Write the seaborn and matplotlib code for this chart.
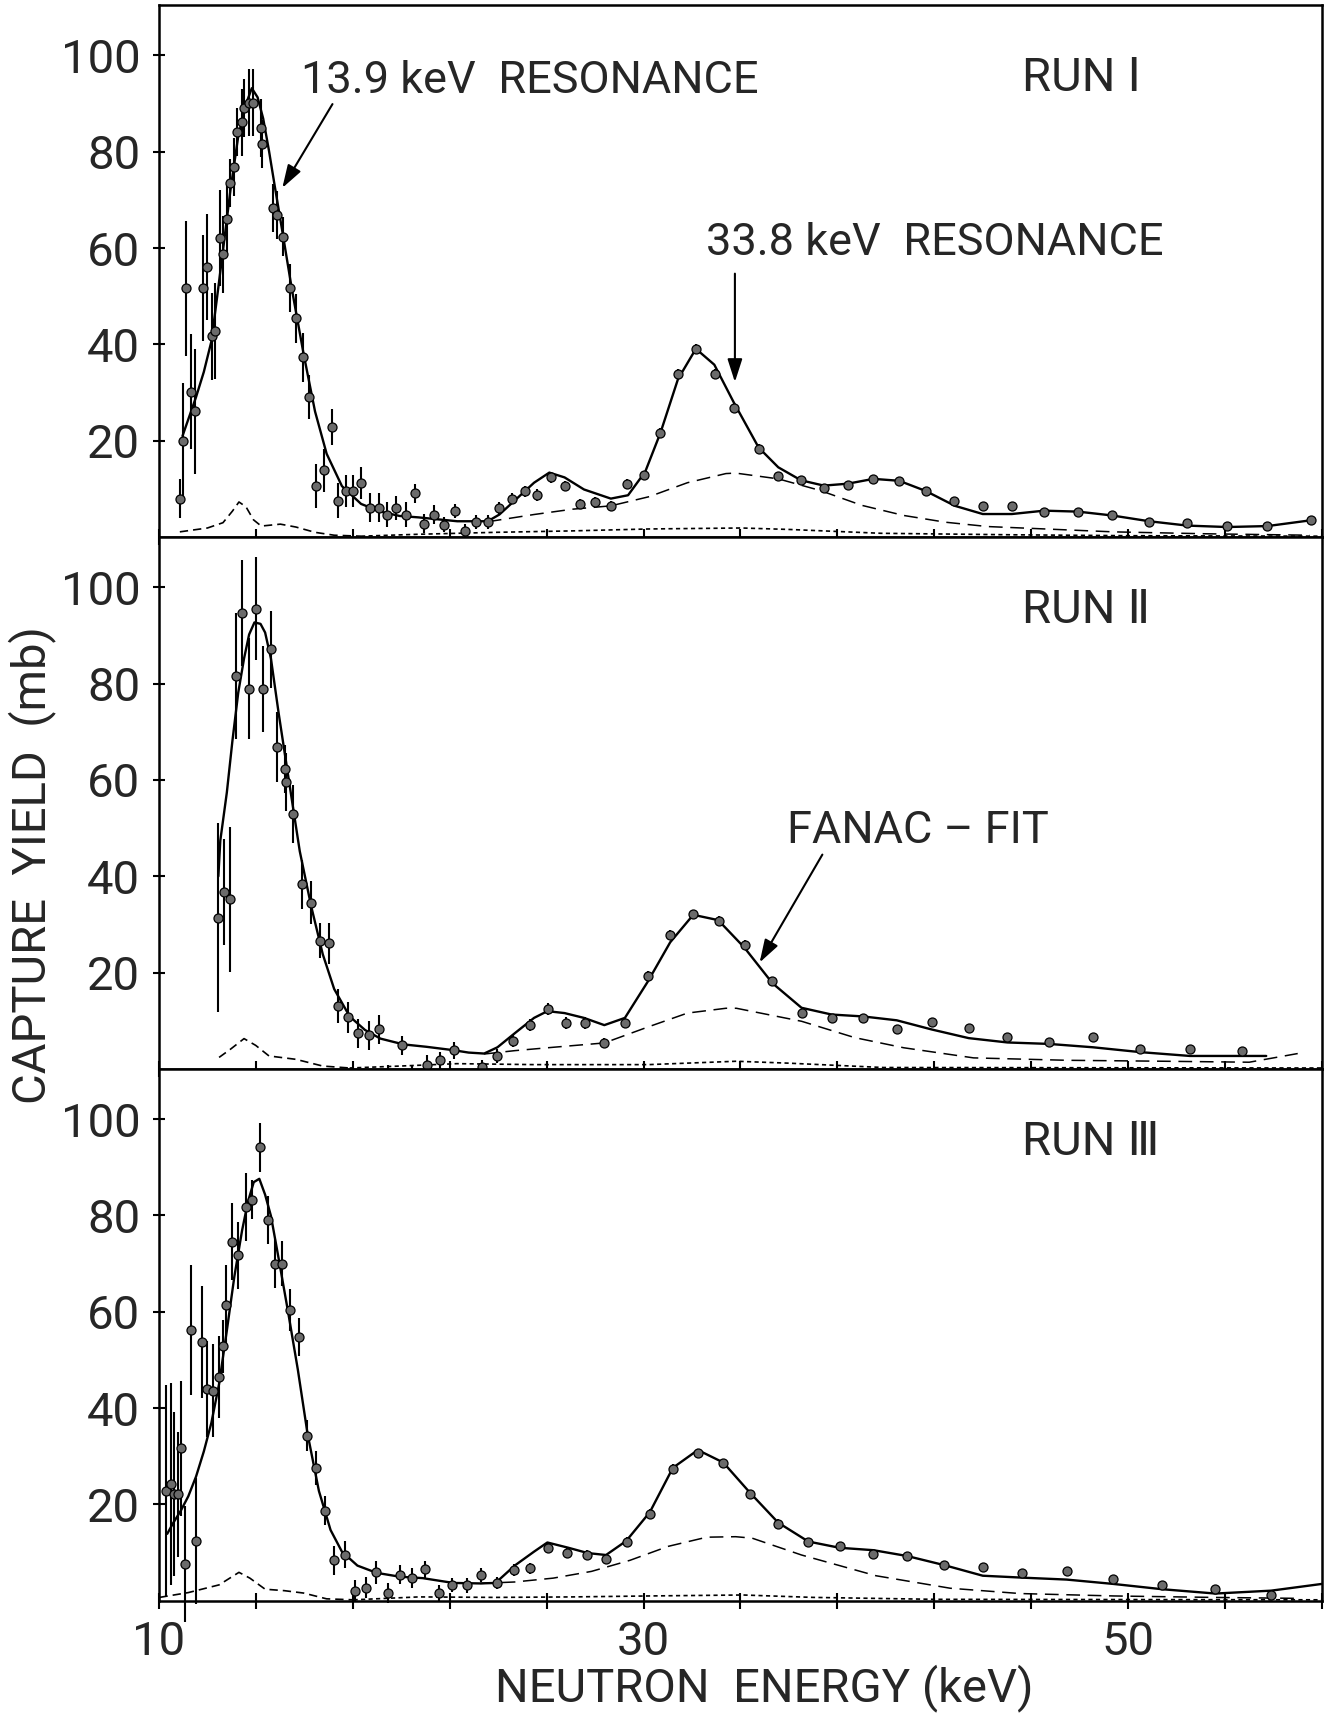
import numpy as np
import matplotlib
matplotlib.use("Agg")
import matplotlib.pyplot as plt
import seaborn as sns
from matplotlib import font_manager

# ---------------- data ----------------
# RUN I : measured points (keV, mb, +-mb)
e1 = [10.86, 10.97, 11.13, 11.34, 11.5, 11.8, 11.97, 12.2, 12.3, 12.5, 12.64, 12.8, 12.93,
      13.08, 13.24, 13.43, 13.51, 13.72, 13.9, 14.2, 14.24, 14.7, 14.86, 15.1, 15.4, 15.65,
      15.93, 16.2, 16.5, 16.8, 17.12, 17.4, 17.7, 18.0, 18.35, 18.7, 19.06, 19.4, 19.8, 20.2,
      20.56, 20.95, 21.35, 21.75, 22.23, 22.62, 23.1, 23.57, 24.05, 24.55, 25.1, 25.6, 26.2,
      26.74, 27.38, 28.0, 28.65, 29.3, 30.0, 30.67, 31.42, 32.16, 32.96, 33.75, 34.75, 35.56,
      36.48, 37.44, 38.43, 39.49, 40.55, 41.64, 42.81, 44.0, 45.21, 46.54, 47.93, 49.34,
      50.87, 52.44, 54.08, 55.75, 57.54]
y1 = [8.0, 19.9, 51.7, 30.2, 26.1, 51.7, 56.1, 41.7, 42.8, 62.1, 58.7, 66.1, 73.6,
      76.9, 84.1, 86.1, 89.1, 90.2, 90.2, 85.0, 81.7, 68.4, 66.9, 62.4, 51.7, 45.4,
      37.3, 29.1, 10.6, 13.9, 22.8, 7.6, 9.5, 9.5, 11.3, 6.1, 6.1, 4.7, 6.1, 4.7,
      9.1, 2.8, 4.7, 2.6, 5.4, 1.3, 3.2, 3.2, 6.1, 8.0, 9.5, 8.7, 12.4,
      10.6, 6.9, 7.3, 6.5, 11.0, 12.8, 21.7, 33.9, 39.1, 33.9, 26.9, 18.4, 12.6,
      11.8, 10.3, 10.9, 12.1, 11.6, 9.6, 7.6, 6.4, 6.4, 5.2, 5.2, 4.5,
      3.1, 2.9, 2.4, 2.4, 3.6]
err1 = [4, 12, 14, 12, 13, 11, 11, 9, 10, 10, 8, 7, 5,
        6, 5, 7, 6, 7, 7, 6, 5, 5, 5, 4, 5, 5,
        5, 4.5, 4.5, 4.5, 3.7, 3.7, 3.3, 3.3, 3.3, 3, 3, 2.5, 2.5, 2.5,
        2, 2, 2, 1.5, 1.5, 1.5, 1.5, 1.5, 1.3, 1.2, 1.2, 1.2, 1.2,
        1, 1, 1, 1, 1, 1, 1, 1, 1, 1, 0.9, 0.9, 0.8,
        0.8, 0.8, 0.8, 0.8, 0.8, 0.7, 0.7, 0.7, 0.7, 0.7, 0.7, 0.7,
        0.6, 0.6, 0.6, 0.6, 0.6]
fit_e1 = [10.97, 11.53, 11.85, 12.16, 12.4, 12.64, 12.95, 13.27, 13.59, 13.83, 14.07, 14.3,
          14.54, 14.78, 15.1, 15.49, 15.97, 16.44, 16.92, 17.55, 18.34, 19.14, 19.93, 20.72,
          21.51, 22.31, 23.1, 23.57, 24.05, 24.68, 25.48, 26.11, 26.74, 27.54, 28.65, 29.36,
          30.07, 30.7, 31.42, 32.16, 32.92, 33.72, 34.75, 35.56, 36.5, 37.44, 38.43, 39.49,
          40.55, 41.64, 42.85, 44.0, 45.2, 46.54, 47.93, 49.34, 50.87, 52.44, 54.08, 55.75, 57.54]
fit_y1 = [21.0, 29.1, 34.3, 40.6, 49.9, 59.5, 72.1, 83.2, 89.9, 93.2, 91.3, 86.9,
          80.2, 72.8, 63.2, 51.3, 38.0, 26.1, 17.3, 10.6, 6.9, 5.3, 4.4, 4.1,
          3.7, 3.3, 3.3, 3.3, 4.7, 7.6, 11.3, 13.4, 12.4, 9.9, 8.0, 8.7,
          13.6, 21.7, 32.8, 39.1, 35.8, 28.0, 18.6, 14.5, 11.8, 10.7, 11.1, 12.1,
          11.7, 9.6, 6.5, 4.8, 4.8, 5.5, 5.3, 4.5, 3.3, 2.4, 2.1, 2.3, 3.5]
wide_e1 = [23.57, 25.48, 27.06, 28.65, 30.23, 31.81, 33.4, 33.8, 35.56, 37.28, 39.01, 40.74,
           42.46, 44.2, 46.1, 49.38, 53.2, 57.5]
wide_y1 = [3.2, 4.7, 5.8, 6.5, 8.4, 11.3, 13.2, 13.3, 12.1, 9.7, 6.6, 4.5,
           3.1, 2.2, 1.8, 1.1, 0.7, 0.4]
low_e1 = [10.86, 12.0, 12.64, 13.03, 13.3, 13.59, 13.9, 14.22, 15.01, 15.65, 16.44, 17.23, 18.34]
low_y1 = [1.1, 1.9, 3.0, 5.4, 7.3, 6.3, 3.6, 2.3, 2.7, 2.1, 1.0, 0.4, 0.2]
dot_e1 = [18.34, 20.72, 23.89, 27.06, 30.23, 34.03, 36.0, 39.8, 45.0, 50.0, 58.0]
dot_y1 = [0.2, 0.6, 1.0, 1.3, 1.7, 1.9, 1.6, 0.8, 0.5, 0.3, 0.2]

# RUN II
e2 = [12.43, 12.69, 12.94, 13.16, 13.43, 13.73, 14.0, 14.3, 14.62, 14.87, 15.2, 15.25,
      15.54, 15.92, 16.28, 16.65, 17.0, 17.39, 17.8, 18.2, 18.65, 19.07, 19.45, 20.04,
      20.45, 21.07, 21.6, 22.18, 22.65, 23.35, 23.97, 24.62, 25.32, 26.06, 26.79, 27.58,
      28.38, 29.23, 30.17, 31.1, 32.06, 33.1, 34.2, 35.32, 36.52, 37.76, 39.07, 40.45,
      41.89, 43.42, 45.02, 46.73, 48.55, 50.49, 52.55, 54.72]
y2 = [31.4, 36.8, 35.2, 81.6, 94.7, 78.9, 95.5, 78.9, 87.1, 66.8, 62.2, 59.5,
      52.9, 38.3, 34.5, 26.6, 26.1, 13.1, 10.7, 7.4, 7.0, 8.2, -1.1, 4.9,
      -1.1, 0.9, 1.8, 3.9, -1.9, 0.4, 2.7, 5.9, 9.1, 12.4, 9.5, 9.5,
      5.4, 9.6, 19.3, 27.9, 32.1, 30.8, 25.8, 18.2, 11.7, 10.6, 10.5, 8.3,
      9.8, 8.4, 6.6, 5.6, 6.6, 4.1, 4.1, 3.7]
err2 = [19.6, 11, 15, 13, 11, 10.5, 10.7, 9, 8, 7.3, 5, 6,
        6, 5, 4.5, 3.6, 4.3, 3.6, 3.2, 3, 3, 3, 2, 2,
        2, 2, 1.8, 1.8, 1.5, 1.5, 1.5, 1.3, 1.3, 1.2, 1.2, 1.2,
        1, 1, 1, 1, 1, 1, 1, 0.9, 0.8, 0.8, 0.8, 0.8,
        0.8, 0.8, 0.7, 0.7, 0.7, 0.7, 0.7, 0.7]
fit_e2 = [12.45, 12.53, 12.8, 13.03, 13.27, 13.51, 13.72, 13.94, 14.19, 14.38, 14.62, 14.94,
          15.33, 15.81, 16.28, 16.76, 17.23, 17.87, 18.5, 19.14, 20.09, 21.04, 22.15, 22.78,
          23.42, 23.97, 24.68, 25.48, 26.03, 26.74, 27.54, 28.38, 29.23, 30.17, 31.1, 32.05,
          33.08, 34.16, 35.32, 36.52, 37.76, 39.07, 40.45, 41.89, 43.42, 45.02, 46.73, 48.55,
          50.49, 52.55, 54.72, 55.7]
fit_y2 = [40.0, 47.4, 57.4, 68.1, 78.1, 85.2, 90.2, 92.7, 92.4, 90.6, 85.2, 73.8,
          60.9, 45.2, 33.8, 23.8, 16.6, 10.9, 8.1, 6.3, 5.1, 4.6, 3.9, 3.4,
          3.2, 4.5, 7.4, 10.6, 12.0, 11.6, 10.6, 9.1, 10.6, 18.1, 26.3, 32.0,
          30.9, 25.2, 17.8, 12.7, 11.3, 10.9, 10.1, 8.2, 6.4, 5.5, 5.2, 4.5,
          3.5, 2.7, 2.7, 2.7]
wide_e2 = [23.42, 24.68, 26.27, 28.38, 30.23, 31.81, 33.4, 33.83, 36.52, 38.72, 40.74, 43.62,
           47.46, 51.5, 55.0, 57.0]
wide_y2 = [3.1, 3.8, 4.5, 5.4, 8.8, 11.6, 12.6, 12.6, 9.9, 6.5, 4.4, 2.3,
           1.8, 1.6, 1.4, 3.2]
low_e2 = [12.48, 12.95, 13.51, 13.99, 14.54, 15.65, 16.76, 17.87]
low_y2 = [2.4, 4.1, 6.3, 4.9, 2.7, 2.0, 0.6, 0.2]
dot_e2 = [17.87, 19.93, 22.3, 25.5, 30.2, 33.83, 36.0, 39.9, 58.0]
dot_y2 = [0.2, 0.6, 1.1, 0.9, 0.9, 1.6, 1.2, 0.3, 0.2]

# RUN III
e3 = [10.29, 10.5, 10.61, 10.77, 10.9, 11.09, 11.34, 11.53, 11.77, 12.0, 12.24, 12.48,
      12.64, 12.77, 13.0, 13.27, 13.59, 13.83, 14.18, 14.49, 14.78, 15.07, 15.41, 15.78,
      16.1, 16.47, 16.87, 17.24, 17.66, 18.07, 18.53, 18.97, 19.45, 19.96, 20.45, 20.99,
      21.54, 22.1, 22.7, 23.29, 23.94, 24.64, 25.32, 26.06, 26.86, 27.65, 28.45, 29.3,
      30.25, 31.2, 32.24, 33.29, 34.4, 35.56, 36.8, 38.09, 39.49, 40.87, 42.41, 44.0,
      45.64, 47.46, 49.38, 51.4, 53.6, 55.9]
y3 = [22.8, 24.3, 22.1, 22.1, 31.7, 7.6, 56.3, 12.4, 53.7, 43.9, 43.6, 46.5,
      52.8, 61.3, 74.5, 71.7, 81.7, 83.3, 94.1, 79.0, 70.0, 70.0, 60.4, 54.8,
      34.3, 27.6, 18.7, 8.4, 9.6, 2.1, 2.7, 5.9, 1.6, 5.4, 4.7, 6.5,
      1.6, 3.3, 3.2, 5.4, 3.7, 6.4, 6.7, 11.0, 9.9, 9.5, 8.7, 12.3,
      18.1, 27.4, 30.6, 28.5, 22.1, 16.0, 12.3, 11.4, 9.8, 9.3, 7.4, 7.1,
      5.7, 6.1, 4.5, 3.2, 2.4, 1.2]
err3 = [22, 21, 17, 13, 14, 12, 13.5, 13, 11.7, 10, 9.6, 8.5,
        5.5, 8.3, 8, 7, 7, 4, 5, 5, 5, 4.6, 4.4, 4,
        3.2, 3.5, 3, 3, 2.8, 2.2, 2.2, 2.4, 2, 2, 2, 1.8,
        1.6, 1.5, 1.5, 1.4, 1.3, 1.2, 1.2, 1.1, 1, 1, 1, 1,
        1, 1, 1, 1, 0.9, 0.9, 0.8, 0.8, 0.8, 0.8, 0.8, 0.7,
        0.7, 0.7, 0.7, 0.6, 0.6, 0.6]
fit_e3 = [10.34, 10.58, 10.9, 11.21, 11.53, 11.85, 12.16, 12.48, 12.8, 13.11, 13.43, 13.67,
          13.91, 14.14, 14.38, 14.62, 14.94, 15.33, 15.73, 16.13, 16.6, 17.08, 17.55, 18.19,
          18.98, 19.93, 20.88, 22.15, 23.26, 23.89, 24.68, 25.48, 26.03, 26.9, 27.7, 28.45,
          29.28, 30.26, 31.21, 32.24, 33.29, 34.38, 35.56, 36.8, 38.09, 39.49, 40.87, 42.41,
          44.0, 45.64, 47.46, 49.38, 51.4, 53.6, 55.9, 58.0]
fit_y3 = [13.9, 16.1, 18.7, 21.7, 25.8, 31.0, 36.9, 45.0, 56.1, 67.3, 76.9, 82.8,
          86.9, 87.6, 84.3, 79.9, 71.0, 59.9, 48.0, 34.7, 22.8, 14.7, 10.2, 7.3,
          5.8, 5.0, 4.7, 3.7, 3.6, 3.7, 7.3, 10.2, 12.1, 11.0, 9.9, 9.5,
          12.4, 18.4, 27.6, 31.3, 28.7, 22.5, 16.2, 12.3, 11.0, 10.5, 9.3, 7.4,
          5.2, 4.8, 4.4, 3.5, 2.4, 1.5, 2.1, 3.5]
wide_e3 = [23.26, 24.68, 26.27, 27.85, 29.44, 31.02, 32.61, 33.8, 34.48, 36.52, 39.59, 42.66,
           45.54, 49.4, 53.5, 57.0]
wide_y3 = [3.6, 3.9, 4.7, 6.1, 8.4, 11.3, 13.2, 13.3, 13.0, 9.5, 5.2, 2.6,
           1.5, 1.0, 0.7, 0.5]
low_e3 = [10.02, 11.21, 12.48, 13.3, 13.75, 14.38, 15.17, 15.97, 16.92, 18.03]
low_y3 = [0.7, 1.7, 3.3, 5.9, 4.7, 2.4, 2.1, 1.6, 0.4, 0.2]
dot_e3 = [18.03, 20.72, 23.89, 27.06, 30.23, 34.1, 37.0, 42.0, 58.0]
dot_y3 = [0.2, 0.8, 0.7, 0.8, 1.0, 1.2, 0.7, 0.3, 0.2]

x_ticks = list(range(10, 59, 4))
x_labelled = [10, 30, 50]
y_ticks = [20, 40, 60, 80, 100]
run_labels = ["RUN \u2160", "RUN \u2161", "RUN \u2162"]

# ---------------- style ----------------
sns.set_style("ticks")
names = {f.name for f in font_manager.fontManager.ttflist}
main_font = "Roboto" if "Roboto" in names else "Liberation Sans"
plt.rcParams["font.family"] = [main_font, "DejaVu Sans"]
FS = 34      # tick labels, axis titles, run labels
FS_NOTE = 32.5  # annotations

fig, axes = plt.subplots(3, 1, figsize=(13.25, 17.22), dpi=100, sharex=True)
fig.subplots_adjust(left=0.12, right=0.9977, top=0.9969, bottom=0.0704, hspace=0)

panels = [
    (e1, y1, err1, fit_e1, fit_y1, wide_e1, wide_y1, low_e1, low_y1, dot_e1, dot_y1),
    (e2, y2, err2, fit_e2, fit_y2, wide_e2, wide_y2, low_e2, low_y2, dot_e2, dot_y2),
    (e3, y3, err3, fit_e3, fit_y3, wide_e3, wide_y3, low_e3, low_y3, dot_e3, dot_y3),
]

for ax, (e, y, err, fe, fy, we, wy, le, ly, de, dy), run in zip(axes, panels, run_labels):
    sns.lineplot(x=fe, y=fy, ax=ax, color="black", lw=1.7, sort=False, estimator=None)
    sns.lineplot(x=we, y=wy, ax=ax, color="black", lw=1.1, sort=False, estimator=None,
                 linestyle=(0, (9, 5)))
    sns.lineplot(x=le, y=ly, ax=ax, color="black", lw=1.2, sort=False, estimator=None,
                 linestyle=(0, (5, 3)))
    sns.lineplot(x=de, y=dy, ax=ax, color="black", lw=1.2, sort=False, estimator=None,
                 linestyle=(0, (2.5, 2)))
    ax.errorbar(e, y, yerr=err, fmt="o", ms=6.5, mfc="0.42", mec="black", mew=0.9,
                ecolor="black", elinewidth=1.5, capsize=0, clip_on=False, zorder=3)

    ax.set_xlim(10, 58)
    ax.set_ylim(0, 110.4)
    ax.set_xticks(x_ticks)
    ax.set_xticklabels([str(t) if t in x_labelled else "" for t in x_ticks])
    ax.set_yticks(y_ticks)
    ax.set_yticklabels([str(t) for t in y_ticks])
    ax.tick_params(axis="both", direction="inout", color="black", width=1.5, labelsize=FS)
    ax.tick_params(axis="y", length=9, pad=9)
    ax.tick_params(axis="x", length=12, pad=8)
    ax.set_xlabel("")
    ax.set_ylabel("")
    for s in ax.spines.values():
        s.set_visible(True)
        s.set_linewidth(1.8)
        s.set_color("black")
    ax.text(45.6, 92.6, run, fontsize=FS, ha="left", va="baseline")

a1, a2, a3 = axes
a1.text(15.88, 92.1, "13.9 keV  RESONANCE", fontsize=FS_NOTE, ha="left", va="baseline")
a1.text(32.57, 58.5, "33.8 keV  RESONANCE", fontsize=FS_NOTE, ha="left", va="baseline")
a2.text(35.94, 46.9, "FANAC \u2013 FIT", fontsize=FS_NOTE, ha="left", va="baseline")

arrow = dict(arrowstyle="-|>,head_length=1.4,head_width=0.45", color="black", lw=1.5,
             shrinkA=0, shrinkB=0)
a1.annotate("", xy=(15.09, 72.5), xytext=(17.16, 89.9), arrowprops=arrow)
a1.annotate("", xy=(33.77, 32.2), xytext=(33.77, 54.7), arrowprops=arrow)
a2.annotate("", xy=(34.79, 22.1), xytext=(37.38, 44.5), arrowprops=arrow)

fig.text(0.0245, 0.4977, "CAPTURE  YIELD  (mb)", rotation=90, fontsize=FS,
         ha="center", va="center")
fig.text(0.5766, 0.020, "NEUTRON  ENERGY (keV)", fontsize=FS, ha="center", va="center")

fig.savefig("out.png", dpi=100)
